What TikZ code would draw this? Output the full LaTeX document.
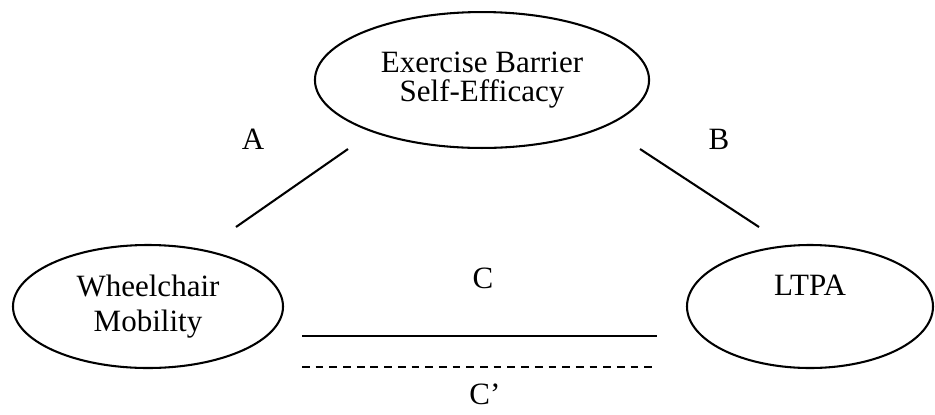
\documentclass[tikz,border=0pt]{standalone}
\usepackage{fontspec}
\setmainfont{Liberation Serif}
\usetikzlibrary{shapes.geometric}
\tikzset{
 construct/.style={draw,ellipse,line width=0.8pt,align=center,inner sep=0pt,
             font=\fontsize{12}{13.5}\selectfont},
 path/.style={line width=0.8pt},
 label/.style={font=\fontsize{12}{13.5}\selectfont,inner sep=0pt}
}

\begin{document}
\begin{tikzpicture}[x=0.387pt,y=-0.387pt]
\useasboundingbox (0,0) rectangle (935,414);
\node[construct,minimum width=129.3pt,minimum height=52.6pt] (efficacy) at (482,80)
  {Exercise Barrier\\[-2.5pt]Self-Efficacy};
\node[construct,minimum width=104.5pt,minimum height=47.6pt] (mobility) at (148,306.5)
  {Wheelchair\\Mobility};
\node[construct,minimum width=95.2pt,minimum height=47.6pt] (ltpa) at (810,306.5)
  {LTPA\\\phantom{Mobility}};
% path ends
\coordinate (a1) at (236,227);
\coordinate (a2) at (348,149);
\coordinate (b1) at (640,149);
\coordinate (b2) at (759,227);
\coordinate (c1) at (302,336);
\coordinate (c2) at (657,336);
\coordinate (d1) at (302,367);
\coordinate (d2) at (657,367);
\draw[path] (a1)--(a2);
\draw[path] (b1)--(b2);
\draw[path] (c1)--(c2);
\draw[path,dash pattern=on 3pt off 2.3pt] (d1)--(d2);
\node[label] (labA) at (253,139) {A};
\node[label] (labB) at (719,139) {B};
\node[label] (labC) at (483,278) {C};
\node[label] (labCp) at (485,394) {C'};
\end{tikzpicture}
\end{document}
